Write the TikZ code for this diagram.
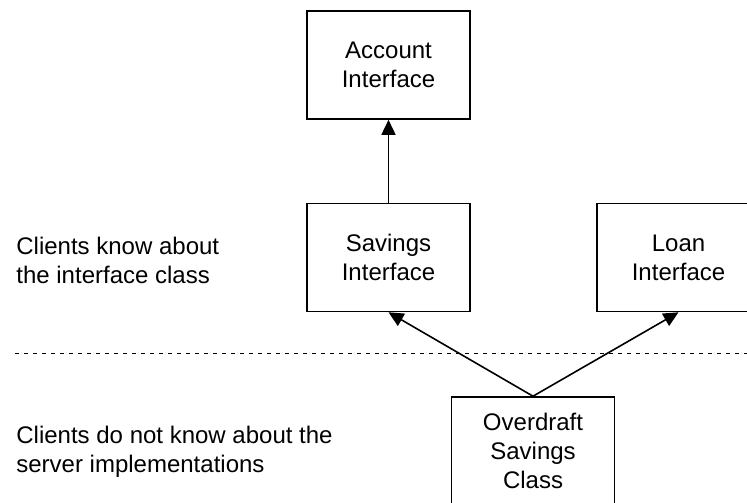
\documentclass[tikz,border=0pt]{standalone}
\usepackage{fontspec}
\setmainfont{Liberation Sans}
\usepackage{tikz}
\usetikzlibrary{arrows.meta,positioning}

\tikzset{
	ifbox/.style={draw, line width=0.8pt, rectangle, minimum width=81.5pt, minimum height=54pt, align=center, font=\fontsize{12}{14.5}\selectfont},
	note/.style={anchor=west, align=left, inner sep=0pt, font=\fontsize{12}{14.5}\selectfont},
	inherit/.style={line width=0.8pt, -{Triangle[length=7.5pt,width=7pt]}}
}

\begin{document}
\begin{tikzpicture}[x=0.5pt, y=-0.5pt]
		\useasboundingbox (0,0) rectangle (747,502);
		
		\node[ifbox] (account) at (388.5, 65) {Account\\Interface};
		\node[ifbox] (savings) at (388.5, 257.5) {Savings\\Interface};
		\node[ifbox] (loan) at (678.5, 257.5) {Loan\\Interface};
		\node[ifbox] (overdraft) at (533, 451) {Overdraft\\Savings\\Class};
		
		\node[note] (known) at (16, 260) {Clients know about\\the interface class};
		\node[note] (unknown) at (16, 452) {Clients do not know about the\\server implementations};
		
		\coordinate (divl) at (15, 353);
		\coordinate (divr) at (747, 353);
		\draw[line width=0.5pt, dash pattern=on 2pt off 2.5pt] (divl) -- (divr);
		
		\draw[inherit] (savings) -- (account);
		\draw[inherit] (overdraft.north) -- (savings.south);
		\draw[inherit] (overdraft.north) -- (loan.south);
	\end{tikzpicture}
\end{document}
